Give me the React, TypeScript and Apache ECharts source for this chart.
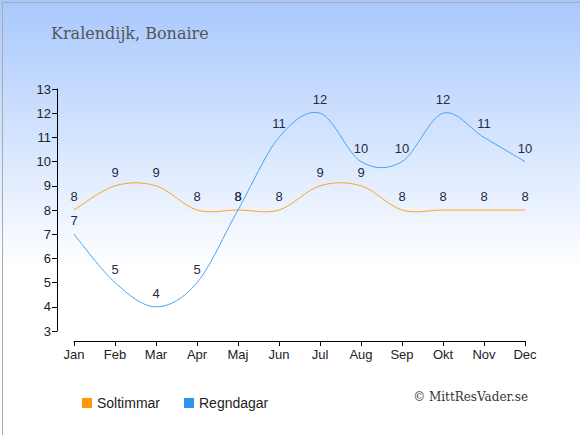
import React, { useEffect, useRef } from "react";
import * as echarts from "echarts";

const months = ["Jan", "Feb", "Mar", "Apr", "Maj", "Jun", "Jul", "Aug", "Sep", "Okt", "Nov", "Dec"];
const soltimmar = [8, 9, 9, 8, 8, 8, 9, 9, 8, 8, 8, 8];
const regndagar = [7, 5, 4, 5, 8, 11, 12, 10, 10, 12, 11, 10];
const titleText = "Kralendijk, Bonaire";
const copyright = "© MittResVader.se";

function splineSeries(name: string, values: number[], color: string) {
  return {
    name,
    type: "custom",
    data: values.map((v, i) => [i, v]),
    silent: true,
    z: 3,
    renderItem: (params: any, api: any) => {
      if (params.dataIndex !== 0) return null;
      const pts = values.map((v, i) => api.coord([i, v]));
      let d = `M${pts[0][0]},${pts[0][1]}`;
      for (let i = 0; i < pts.length - 1; i++) {
        const p0 = pts[i - 1] || pts[i];
        const p1 = pts[i];
        const p2 = pts[i + 1];
        const p3 = pts[i + 2] || pts[i + 1];
        const c1x = p1[0] + (p2[0] - p0[0]) / 6;
        const c1y = p1[1] + (p2[1] - p0[1]) / 6;
        const c2x = p2[0] - (p3[0] - p1[0]) / 6;
        const c2y = p2[1] - (p3[1] - p1[1]) / 6;
        d += ` C${c1x},${c1y} ${c2x},${c2y} ${p2[0]},${p2[1]}`;
      }
      return {
        type: "path",
        shape: { pathData: d },
        style: { fill: "none", stroke: color, lineWidth: 1 },
      };
    },
  };
}

export default function App() {
  const ref = useRef<HTMLDivElement>(null);
  useEffect(() => {
    document.body.style.margin = "0";
    const chart = echarts.init(ref.current!, null, { renderer: "svg" });
    const labelStyle = {
      show: true,
      position: "top" as const,
      color: "#1f2d44",
      fontSize: 13,
      fontFamily: "Liberation Sans, Arial, sans-serif",
      distance: 6,
    };
    chart.setOption({
      animation: false,
      backgroundColor: {
        type: "linear",
        x: 0,
        y: 0,
        x2: 0,
        y2: 1,
        colorStops: [
          { offset: 0, color: "#a8c8fd" },
          { offset: 0.62, color: "#ffffff" },
          { offset: 1, color: "#ffffff" },
        ],
      },
      title: {
        text: titleText,
        left: 46,
        top: 20,
        textStyle: {
          fontFamily: "DejaVu Serif, serif",
          fontWeight: "normal",
          fontSize: 16,
          color: "#555555",
        },
      },
      graphic: [
        {
          type: "rect",
          left: 0,
          top: 0,
          shape: { width: 579, height: 434 },
          style: { fill: "none", stroke: "#aaaaaa", lineWidth: 1 },
          silent: true,
        },
        {
          type: "text",
          right: 52,
          top: 391,
          style: {
            text: copyright,
            font: "12px 'DejaVu Serif', serif",
            fill: "#333333",
          },
        },
      ],
      legend: {
        left: 77,
        top: 391,
        icon: "rect",
        itemWidth: 10,
        itemHeight: 10,
        itemGap: 24,
        textStyle: {
          fontFamily: "Liberation Sans, Arial, sans-serif",
          fontSize: 14,
          color: "#222222",
        },
        data: [
          { name: "Soltimmar", itemStyle: { color: "#ff9900", opacity: 1 } },
          { name: "Regndagar", itemStyle: { color: "#2f95eb", opacity: 1 } },
        ],
      },
      grid: { left: 74, right: 55, top: 89, bottom: 104 },
      xAxis: {
        type: "category",
        data: months,
        boundaryGap: false,
        offset: 10,
        axisLine: { lineStyle: { color: "#000", width: 1 } },
        axisTick: { show: true, length: 5, inside: false, alignWithLabel: true },
        axisLabel: {
          color: "#222",
          fontSize: 13,
          fontFamily: "Liberation Sans, Arial, sans-serif",
          margin: 7,
        },
        splitLine: { show: false },
      },
      yAxis: {
        type: "value",
        min: 3,
        max: 13,
        interval: 1,
        offset: 17,
        axisLine: { show: true, lineStyle: { color: "#000", width: 1 } },
        axisTick: { show: true, length: 5 },
        axisLabel: {
          color: "#222",
          fontSize: 13,
          fontFamily: "Liberation Sans, Arial, sans-serif",
          margin: 6,
        },
        splitLine: { show: false },
      },
      series: [
        {
          name: "Soltimmar",
          type: "line",
          data: soltimmar,
          symbol: "circle",
          symbolSize: 2,
          showSymbol: true,
          itemStyle: { color: "rgba(0,0,0,0)", borderWidth: 0 },
          lineStyle: { opacity: 0, width: 0 },
          label: labelStyle,
        },
        {
          name: "Regndagar",
          type: "line",
          data: regndagar,
          symbol: "circle",
          symbolSize: 2,
          showSymbol: true,
          itemStyle: { color: "rgba(0,0,0,0)", borderWidth: 0 },
          lineStyle: { opacity: 0, width: 0 },
          label: labelStyle,
        },
        splineSeries("Soltimmar", soltimmar, "#ffa41c"),
        splineSeries("Regndagar", regndagar, "#4aa3ef"),
      ],
    });
    return () => chart.dispose();
  }, []);
  return <div ref={ref} style={{ position: "absolute", left: 0, top: 0, width: 580, height: 435 }} />;
}
